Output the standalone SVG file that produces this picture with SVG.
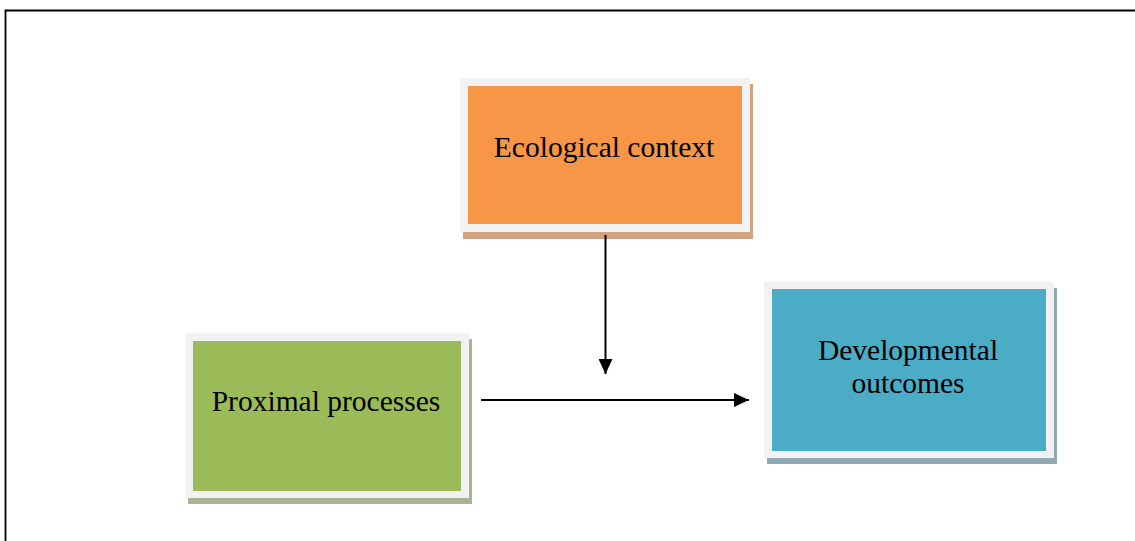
<svg xmlns="http://www.w3.org/2000/svg" width="1135" height="541" viewBox="0 0 1135 541">
<defs>
<style>
.frame{fill:none;stroke:#000;stroke-width:1.8}
.outer{fill:#f2f2f2}
.lbl{font-family:"Liberation Serif","Times New Roman",serif;font-size:29.5px;fill:#000;text-anchor:middle}
.conn{stroke:#000;stroke-width:2;fill:none}
</style>
<marker id="ah" markerWidth="15" markerHeight="14" refX="15" refY="7" orient="auto" markerUnits="userSpaceOnUse" viewBox="0 0 15 14">
<path d="M0,0 L15,7 L0,14 Z" fill="#000"/>
</marker>
</defs>
<rect width="1135" height="541" fill="#fff"/>
<path class="frame" d="M5.5,541 V10.5 H1135"/>
<g id="ecological">
<rect x="463" y="84" width="290" height="155" fill="#cfa282"/>
<rect class="outer" x="460" y="78" width="290" height="154"/>
<rect x="468" y="86" width="274" height="138" fill="#f79646"/>
<text class="lbl" x="604" y="157">Ecological context</text>
</g>
<g id="proximal">
<rect x="188" y="339" width="284" height="165" fill="#a9b592"/>
<rect class="outer" x="185" y="333" width="284" height="165"/>
<rect x="193" y="341" width="268" height="150" fill="#9bbb59"/>
<text class="lbl" x="326" y="411">Proximal processes</text>
</g>
<g id="developmental">
<rect x="767" y="288" width="290" height="176" fill="#8fa9b2"/>
<rect class="outer" x="764" y="282" width="290" height="176"/>
<rect x="772" y="289" width="274" height="162" fill="#4bacc6"/>
<text class="lbl" x="908" y="360">Developmental</text>
<text class="lbl" x="908" y="393">outcomes</text>
</g>
<g id="connectors">
<line class="conn" x1="605.5" y1="235" x2="605.5" y2="374" marker-end="url(#ah)"/>
<line class="conn" x1="481" y1="400" x2="749" y2="400" marker-end="url(#ah)"/>
</g>
</svg>
